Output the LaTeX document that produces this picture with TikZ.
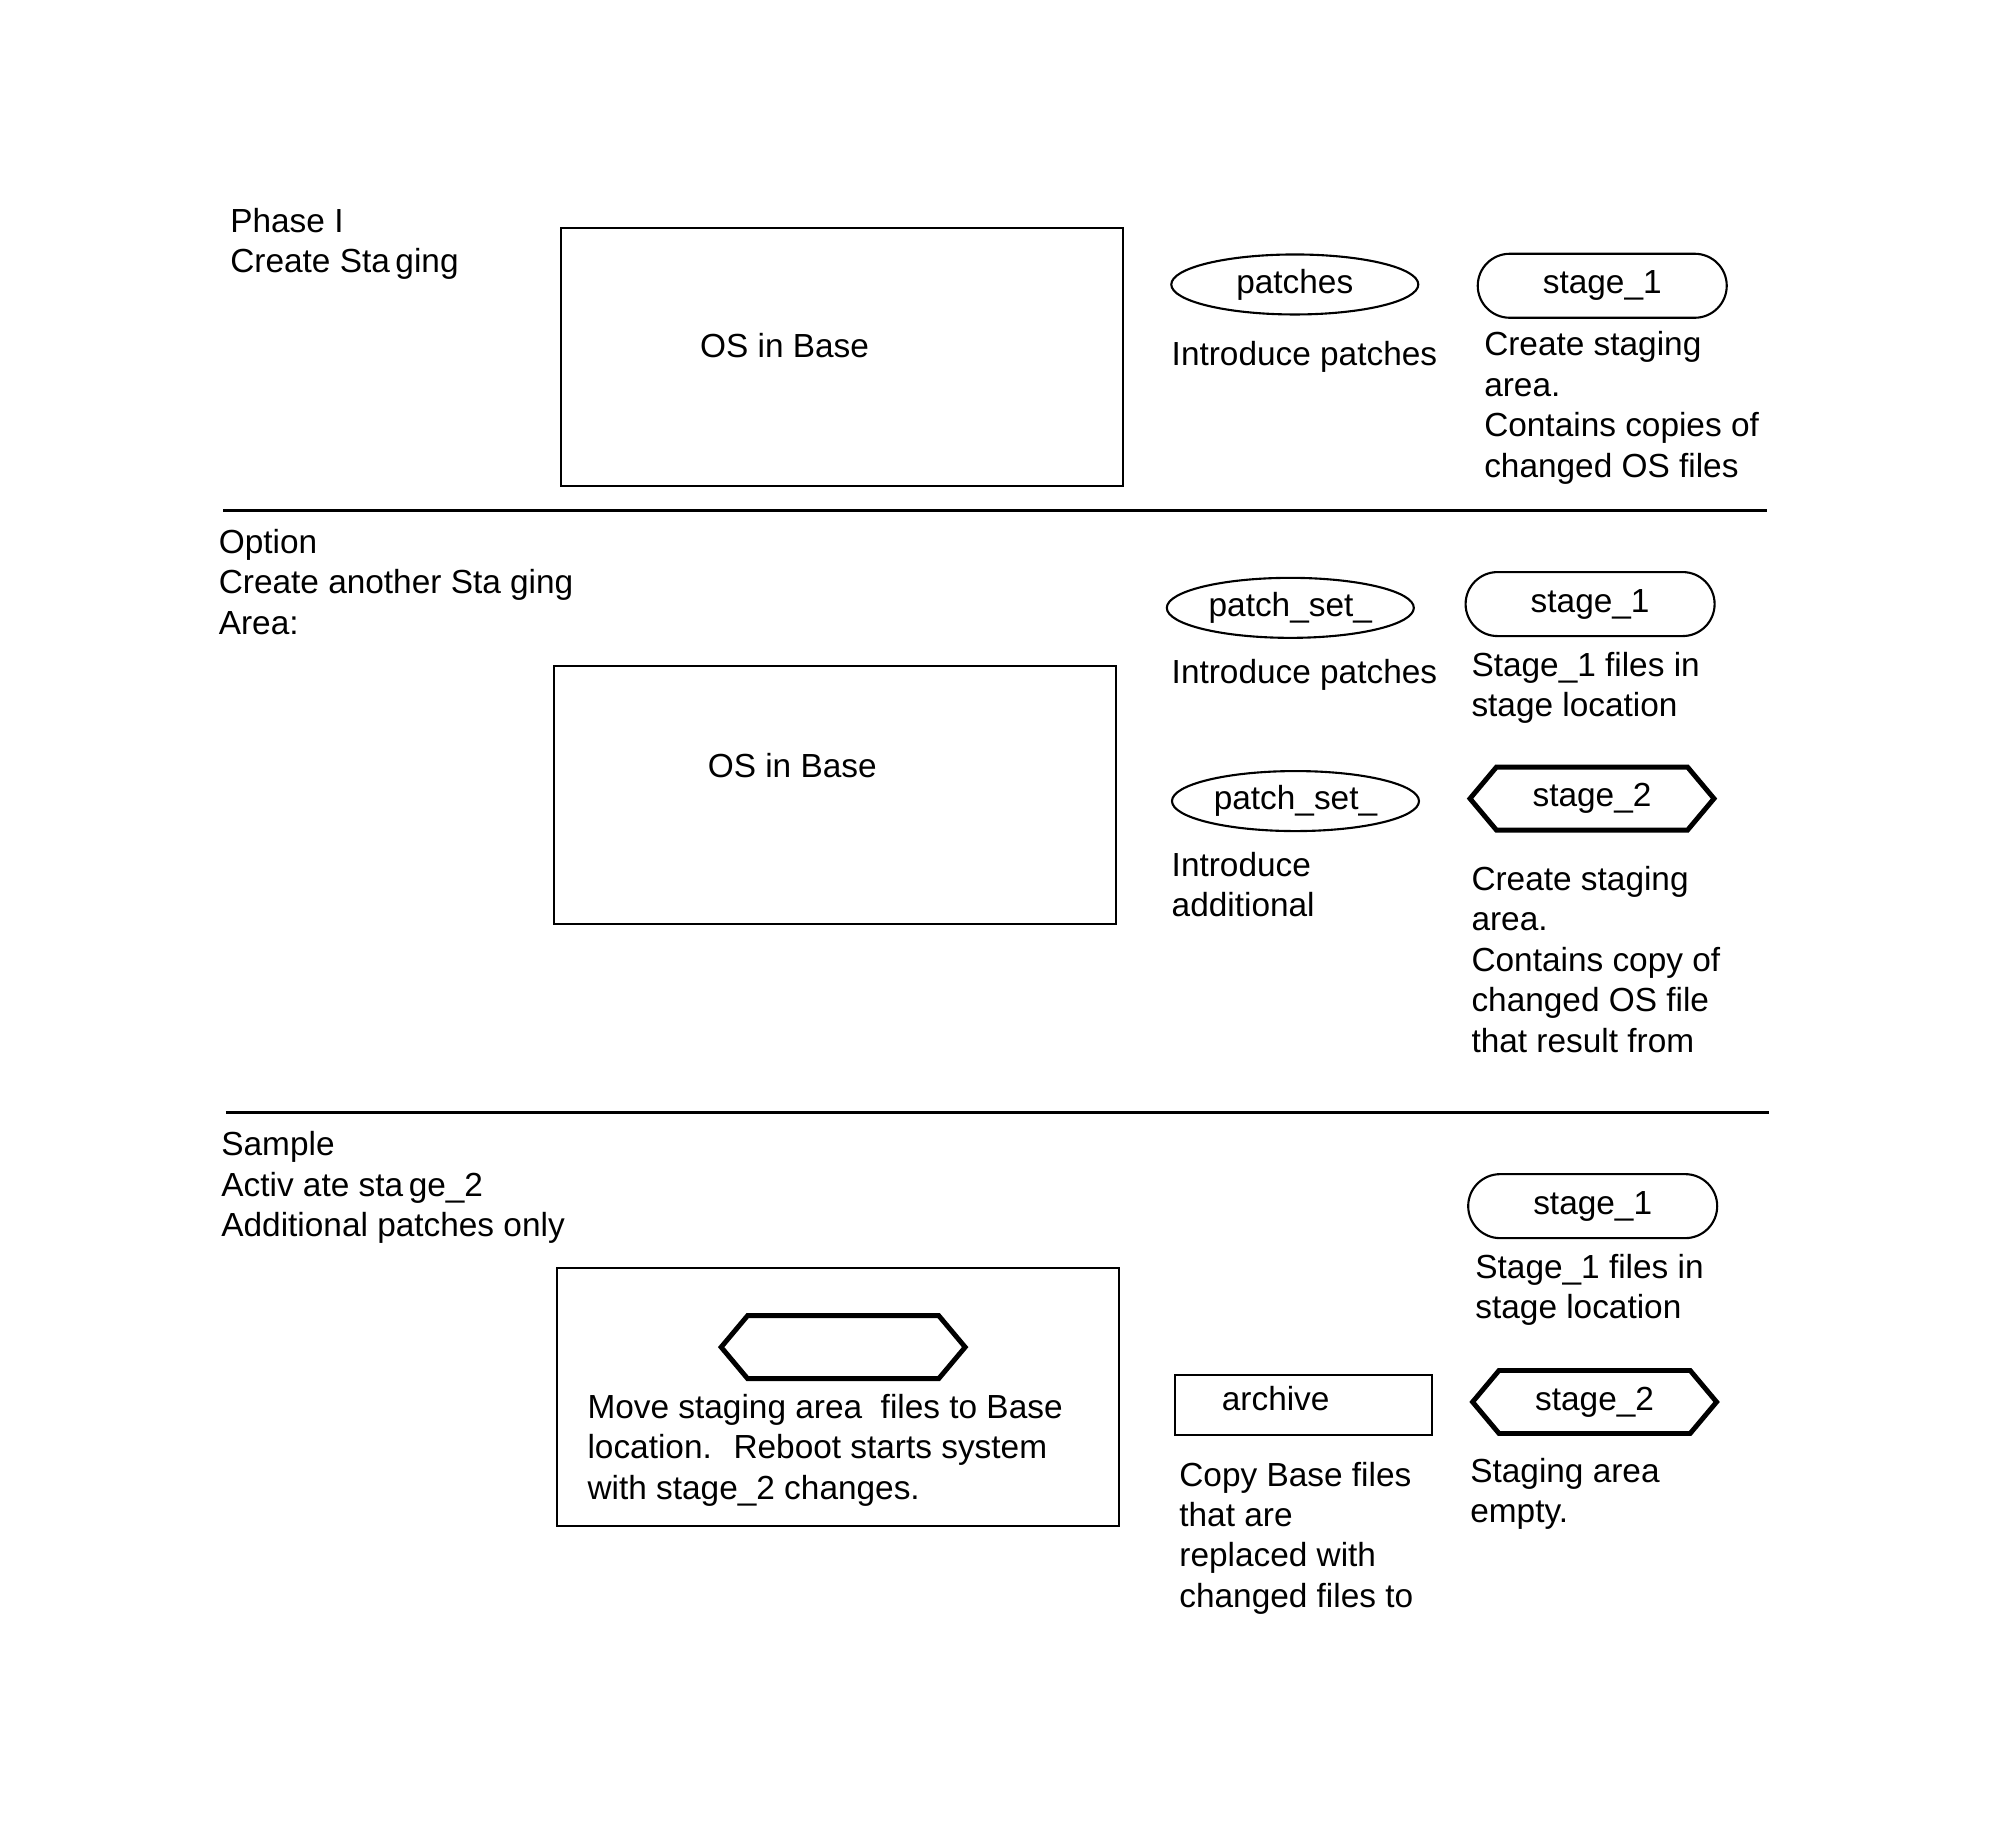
\documentclass[tikz,border=0pt]{standalone}
\usepackage{fontspec}
\setmainfont{Liberation Sans}
\usetikzlibrary{shapes.geometric,shapes.misc,shapes.symbols}

\begin{document}
\begin{tikzpicture}[every node/.style={font=\fontsize{9.5}{11.5}\selectfont},
	basebox/.style={draw, rectangle, line width=0.6pt, minimum width=5.62cm, minimum height=2.58cm, inner sep=0pt},
	patchnode/.style={draw, ellipse, line width=0.6pt, minimum width=2.47cm, minimum height=0.6cm, inner sep=0pt},
	stagenode/.style={draw, rounded rectangle, line width=0.6pt, minimum width=2.49cm, minimum height=0.64cm, inner sep=0pt},
	hexnode/.style={draw, signal, signal to=west and east, signal pointer angle=100, line width=1.4pt, minimum width=2.44cm, minimum height=0.63cm, inner sep=0pt},
	archnode/.style={draw, rectangle, line width=0.6pt, minimum width=2.57cm, minimum height=0.6cm, inner sep=0pt},
	note/.style={anchor=north west, inner sep=0pt, align=left, execute at begin node=\strut},
	rule/.style={line width=0.8pt}]
	\useasboundingbox (0,0) rectangle (20,-18.33);
	\begin{scope}[scale=0.995]
	% Phase I
	\node[note] (head1) at (2.308,-2.082) {Phase I\\Create Sta\,ging};
	\node[basebox] (base1) at (8.462,-3.590) {};
	\node (os1) at (7.885,-3.474) {OS in Base};
	\node[patchnode] (patch1) at (13.013,-2.859) {patches};
	\node[note] (intro1) at (11.769,-3.377) {Introduce patches};
	\node[stagenode] (stage1a) at (16.103,-2.872) {stage\_1};
	\node[note] (create1) at (14.910,-3.326) {Create staging\\area.\\Contains copies of\\changed OS files};
	\draw[rule] (2.244,-5.128) -- (17.756,-5.128);
	% Option
	\node[note] (head2) at (2.192,-5.313) {Option\\Create another Sta ging\\Area:};
	\node[basebox] (base2) at (8.391,-7.987) {};
	\node (os2) at (7.962,-7.692) {OS in Base};
	\node[patchnode] (patch2) at (12.968,-6.109) {patch\_set\_};
	\node[note] (intro2) at (11.769,-6.582) {Introduce patches};
	\node[stagenode] (stage1b) at (15.981,-6.071) {stage\_1};
	\node[note] (files1b) at (14.782,-6.544) {Stage\_1 files in\\stage location};
	\node[patchnode] (patch3) at (13.020,-8.051) {patch\_set\_};
	\node[note] (intro3) at (11.769,-8.557) {Introduce\\additional};
	\node[hexnode] (stage2b) at (16.0,-8.026) {stage\_2};
	\node[note] (create2) at (14.782,-8.698) {Create staging\\area.\\Contains copy of\\changed OS file\\that result from};
	\draw[rule] (2.269,-11.179) -- (17.782,-11.179);
	% Sample
	\node[note] (head3) at (2.218,-11.365) {Sample\\Activ ate sta\,ge\_2\\Additional patches only};
	\node[basebox] (base3) at (8.423,-14.038) {};
	\node[hexnode] (move) at (8.474,-13.539) {};
	\node[note] (movetxt) at (5.898,-14.006) {Move staging area~ files to Base\\location.~ Reboot starts system\\with stage\_2 changes.};
	\node[stagenode] (stage1c) at (16.007,-12.122) {stage\_1};
	\node[note] (files1c) at (14.821,-12.595) {Stage\_1 files in\\stage location};
	\node[archnode] (arch) at (13.096,-14.122) {};
	\node (archtxt) at (12.821,-14.051) {archive};
	\node[note] (copy) at (11.846,-14.685) {Copy Base files\\that are\\replaced with\\changed files to};
	\node[hexnode] (stage2c) at (16.026,-14.090) {stage\_2};
	\node[note] (empty) at (14.770,-14.647) {Staging area\\empty.};
	\end{scope}
\end{tikzpicture}
\end{document}
